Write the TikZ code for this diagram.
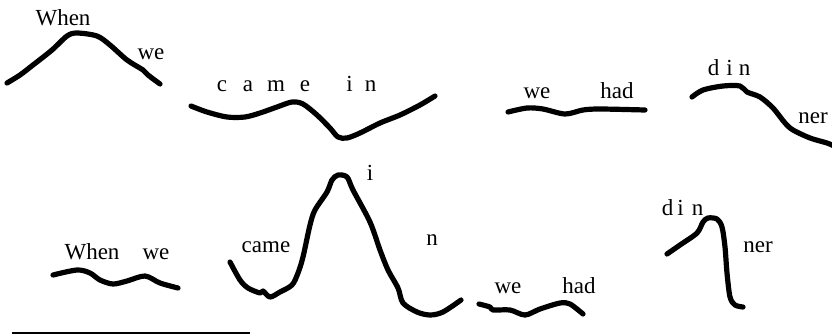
\documentclass[tikz,border=0pt]{standalone}
\usepackage{fontspec}
\setmainfont{Liberation Serif}
\begin{document}
\begin{tikzpicture}[x=1bp,y=-1bp,
  pitch/.style={line width=5.2bp,line cap=round,line join=round},
  word/.style={anchor=base,inner sep=0pt,font=\fontsize{23bp}{27bp}\selectfont}]
\useasboundingbox (0,0) rectangle (832,335);
% row 1
\draw[pitch] plot[smooth,tension=0.5] coordinates {(7,83) (20,75) (33,65) (52,50) (67,36) (77,33) (97,36) (110,45) (127,60) (143,70) (148,75) (160,84)};
\node[word] (w1) at (63,25) {When};
\node[word] (w2) at (151,59) {we};
\draw[pitch] plot[smooth,tension=0.5] coordinates {(191,106) (207,112) (227,117) (245,117) (260,113) (277,107) (292,102) (303,104) (317,115) (330,128) (338,137) (347,138) (360,133) (380,123) (400,115) (420,105) (435,96)};
\node[word] (c1) at (222,91) {c};
\node[word] (c2) at (248,91) {a};
\node[word] (c3) at (276,91) {m};
\node[word] (c4) at (305,91) {e};
\node[word] (c5) at (349.5,91) {i};
\node[word] (c6) at (370.5,91) {n};
\draw[pitch] plot[smooth,tension=0.5] coordinates {(508,112) (527,108) (543,109) (565,114) (583,110) (600,109) (645,110)};
\node[word] (h1) at (537,98) {we};
\node[word] (h2) at (617,98) {had};
\draw[pitch] plot[smooth,tension=0.5] coordinates {(692,97) (703,90) (723,86) (740,86) (747,92) (760,97) (773,108) (785,123) (793,130) (810,138) (827,143) (834,146)};
\node[word] (d1) at (713.5,75) {d};
\node[word] (d2) at (729.5,75) {i};
\node[word] (d3) at (744.5,75) {n};
\node[word] (d4) at (813,123) {ner};
% row 2
\draw[pitch] plot[smooth,tension=0.5] coordinates {(53,275) (77,270) (90,273) (100,280) (113,284) (127,281) (145,276) (160,283) (178,288)};
\node[word] (v1) at (92,259) {When};
\node[word] (v2) at (156,259) {we};
\draw[pitch] plot[smooth,tension=0.5] coordinates {(230,262) (240,280) (248,288) (260,293) (263,291) (270,297) (280,292) (292,285) (298,273) (303,257) (310,225) (315,210) (327,192) (332,180) (338,175) (347,177) (353,190) (370,222) (380,250) (388,270) (398,288) (403,303) (417,312) (430,315) (443,312) (461,300)};
\node[word] (e1) at (266,252) {came};
\node[word] (e2) at (370,180) {i};
\node[word] (e3) at (432,245) {n};
\draw[pitch] plot[smooth,tension=0.5] coordinates {(479,304) (490,307) (493,310) (510,310) (525,315) (540,309) (560,303) (570,304) (583,314)};
\node[word] (g1) at (508,293) {we};
\node[word] (g2) at (579,293) {had};
\draw[pitch] plot[smooth,tension=0.5] coordinates {(667,254) (680,245) (697,233) (703,222) (708,218) (717,219) (722,227) (725,247) (727,273) (730,297) (735,305) (743,307)};
\node[word] (f1) at (667.5,215) {d};
\node[word] (f2) at (680.5,215) {i};
\node[word] (f3) at (697.5,215) {n};
\node[word] (f4) at (758,252) {ner};
\coordinate (r1) at (12,333);
\coordinate (r2) at (250,333);
\draw[line width=1.8bp] (r1) -- (r2);
\end{tikzpicture}
\end{document}
